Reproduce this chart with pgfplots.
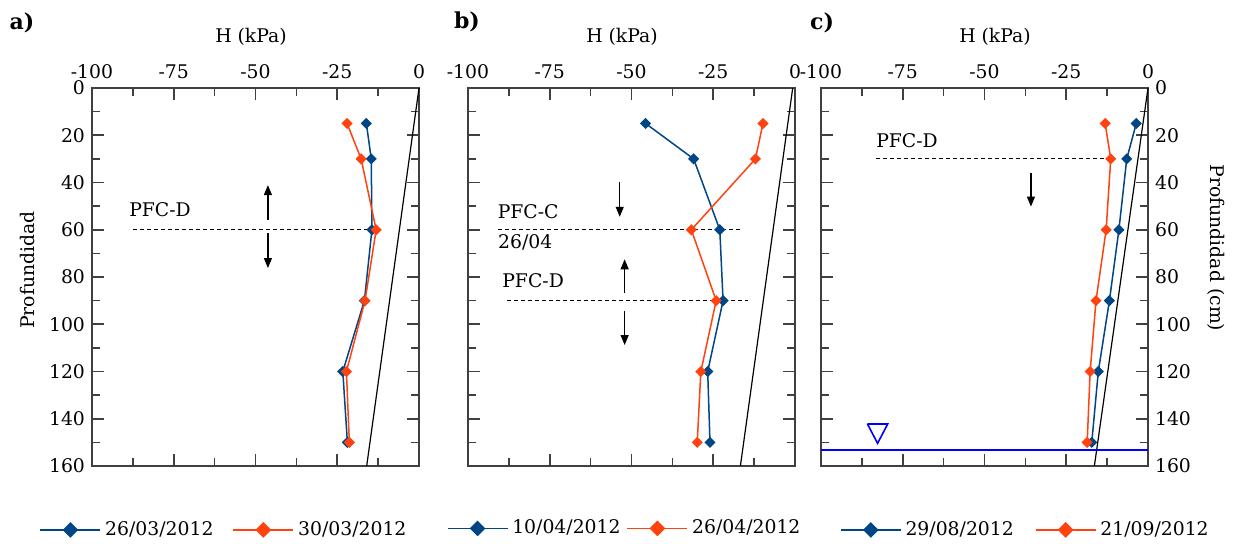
\documentclass[border=0pt]{standalone}
\usepackage{pgfplots}
\pgfplotsset{compat=1.18}
\usepackage{fontspec}
\setmainfont{DejaVu Serif}
\usetikzlibrary{arrows.meta}
\definecolor{cblue}{HTML}{004586}
\definecolor{corange}{HTML}{FF420E}
\definecolor{wt}{HTML}{0000FF}
\newcommand{\fs}{\fontsize{9.4}{11}\selectfont}
\tikzset{arr/.style={black, line width=0.6pt, -{Triangle[length=5pt,width=4pt]}}}
\pgfplotsset{
 panel/.style={
  scale only axis, width=163.5pt, height=189pt,
  xmin=-100,xmax=0,ymin=0,ymax=160,y dir=reverse,
  xtick={-100,-75,-50,-25,0}, minor x tick num=1,
  ytick={0,20,...,160}, minor y tick num=1,
  tick align=inside, major tick length=6pt, minor tick length=4pt,
  xticklabel pos=right,
  axis line style={line width=0.8pt, black!75},
  every tick/.style={line width=0.8pt, black!75},
  tick label style={font=\fs},
  xticklabel style={yshift=1pt},
  /pgf/number format/assume math mode=true,
  clip=false,
  legend columns=2,
  legend cell align=left,
  legend style={draw=none, fill=none, font=\fs, anchor=center,
    /tikz/every even column/.style={column sep=7.5pt}},
  legend image code/.code={\draw[mark repeat=2,mark phase=2,##1, mark size=2.4pt] plot coordinates {(0pt,0pt)(15pt,0pt)(30pt,0pt)};},
 },
 ser/.style={line width=0.75pt, mark=square*, mark size=1.6pt, mark options={solid, rotate=45}},
 dash/.style={black, line width=0.5pt, dash pattern=on 2pt off 1.5pt, forget plot},
 hyd/.style={black, line width=0.6pt, forget plot},
}
\begin{document}
\begin{tikzpicture}
\useasboundingbox (0,0) rectangle (618pt,-271.5pt);
% panel a
\begin{axis}[panel, at={(46pt,-44pt)}, anchor=north west,
  legend style={at={(0.407,-0.169)}}]
\addplot[hyd] coordinates {(0,0) (-16,160)};
\addplot[dash] coordinates {(-87.5,60) (-14.4,60)};
\addplot[ser, cblue] coordinates {(-16.1,15) (-14.6,30) (-14.4,60) (-16.7,90) (-23.3,120) (-21.9,150)};
\addplot[ser, corange] coordinates {(-22.0,15) (-17.7,30) (-13.1,60) (-16.5,90) (-22.2,120) (-21.3,150)};
\legend{26/03/2012, 30/03/2012}
\draw[arr] (axis cs:-46.2,55.9) -- (axis cs:-46.2,41.1);
\draw[arr] (axis cs:-46.2,61.4) -- (axis cs:-46.2,76.2);
\node[font=\fs] at (axis cs:-79.2,51.6) {PFC-D};
\end{axis}
% panel b
\begin{axis}[panel, at={(234pt,-44pt)}, anchor=north west, yticklabels={},
  legend style={at={(0.482,-0.165)}, /tikz/every even column/.style={column sep=1pt}}]
\addplot[hyd] coordinates {(-0.7,0) (-16.7,160)};
\addplot[dash] coordinates {(-90.8,60) (-16.0,60)};
\addplot[dash] coordinates {(-88.0,90) (-14.3,90)};
\addplot[ser, cblue] coordinates {(-45.7,15) (-31.0,30) (-23.0,60) (-22.0,90) (-26.7,120) (-26.0,150)};
\addplot[ser, corange] coordinates {(-9.8,15) (-12.1,30) (-31.7,60) (-24.1,90) (-28.8,120) (-29.9,150)};
\legend{10/04/2012, 26/04/2012}
\draw[arr] (axis cs:-53.6,39.7) -- (axis cs:-53.6,54.5);
\draw[arr] (axis cs:-52.1,86.6) -- (axis cs:-52.1,72.5);
\draw[arr] (axis cs:-52.1,94.3) -- (axis cs:-52.1,108.8);
\node[font=\fs] at (axis cs:-81.6,52.5) {PFC-C};
\node[font=\fs] at (axis cs:-82.5,65.2) {26/04};
\node[font=\fs] at (axis cs:-80.1,81.7) {PFC-D};
\end{axis}
% panel c
\begin{axis}[panel, at={(410.5pt,-44pt)}, anchor=north west, yticklabel pos=right,
  legend style={at={(0.628,-0.169)}, /tikz/every even column/.style={column sep=8.5pt}}]
\addplot[hyd] coordinates {(0,0) (-16.4,160)};
\addplot[dash] coordinates {(-83.2,30) (-10.6,30)};
\addplot[wt, line width=0.8pt, forget plot] coordinates {(-100,153.2) (0,153.2)};
\addplot[wt, line width=0.8pt, forget plot] coordinates {(-85.8,142.2) (-79.6,142.2) (-82.7,150.4) (-85.8,142.2)};
\addplot[ser, cblue] coordinates {(-3.6,15) (-6.5,30) (-8.9,60) (-11.8,90) (-15.2,120) (-17.2,150)};
\addplot[ser, corange] coordinates {(-13.1,15) (-11.4,30) (-12.8,60) (-15.9,90) (-17.7,120) (-18.6,150)};
\legend{29/08/2012, 21/09/2012}
\draw[arr] (axis cs:-35.8,36.1) -- (axis cs:-35.8,50.2);
\node[font=\fs] at (axis cs:-73.7,22.4) {PFC-D};
\end{axis}
% labels
\node[font=\fontsize{11}{13}\selectfont\bfseries] at (11pt,-11.5pt) {a)};
\node[font=\fontsize{11}{13}\selectfont\bfseries] at (233.5pt,-11pt) {b)};
\node[font=\fontsize{11}{13}\selectfont\bfseries] at (411pt,-11.5pt) {c)};
\node[font=\fs] at (125.5pt,-18.5pt) {H (kPa)};
\node[font=\fs] at (311pt,-18.5pt) {H (kPa)};
\node[font=\fs] at (497.5pt,-18.5pt) {H (kPa)};
\node[font=\fs, rotate=90] at (13.75pt,-135pt) {Profundidad};
\node[font=\fs, rotate=-90] at (608pt,-124pt) {Profundidad (cm)};
\end{tikzpicture}
\end{document}
